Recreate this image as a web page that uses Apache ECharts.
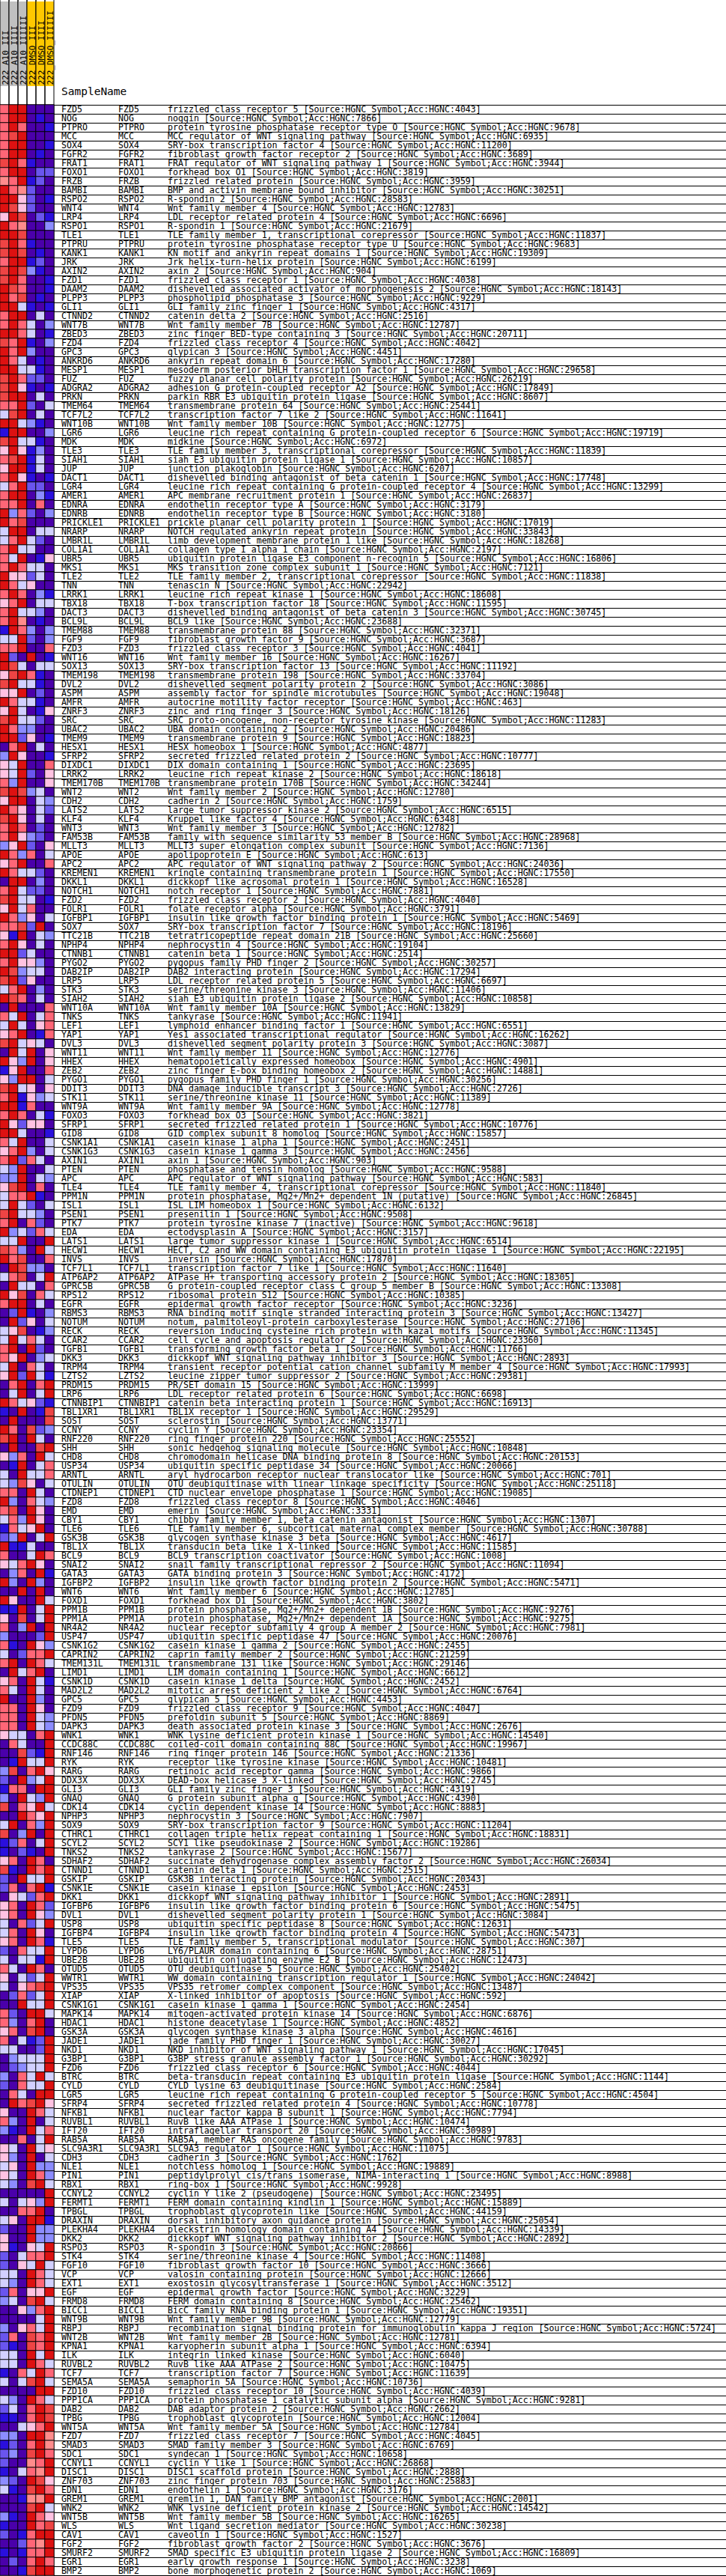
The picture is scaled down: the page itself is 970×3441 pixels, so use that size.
<!DOCTYPE html>
<html><head><meta charset="utf-8">
<script src="https://cdn.jsdelivr.net/npm/echarts@6/dist/echarts.min.js"></script>
<style>html,body{margin:0;padding:0;background:#fff}#c{width:970px;height:3441px}</style>
</head><body><div id="c"></div>
<script>
const samples = ['222_A10_III','222_A10_IIII','222_A10_IIIIII','222_DMSO_III','222_DMSO_IIII','222_DMSO_IIIIII'];
const sampleGroups = ['A10','A10','A10','DMSO','DMSO','DMSO'];
const groupColors = {A10:'#C0C0C0', DMSO:'#FFC800'};
const headerTitle = 'SampleName';

const genes = ['FZD5','NOG','PTPRO','MCC','SOX4','FGFR2','FRAT1','FOXO1','FRZB','BAMBI','RSPO2','WNT4','LRP4','RSPO1','TLE1','PTPRU','KANK1','JRK','AXIN2','FZD1',
'DAAM2','PLPP3','GLI1','CTNND2','WNT7B','ZBED3','FZD4','GPC3','ANKRD6','MESP1','FUZ','ADGRA2','PRKN','TMEM64','TCF7L2','WNT10B','LGR6','MDK','TLE3','SIAH1','JUP','DACT1','LGR4','AMER1','EDNRA','EDNRB','PRICKLE1','NRARP','LMBR1L','COL1A1',
'UBR5','MKS1','TLE2','TNN','LRRK1','TBX18','DACT3','BCL9L','TMEM88','FGF9','FZD3','WNT16','SOX13','TMEM198','DVL2','ASPM','AMFR','ZNRF3','SRC','UBAC2','TMEM9','HESX1','SFRP2','DIXDC1','LRRK2','TMEM170B','WNT2','CDH2','LATS2','KLF4',
'WNT3','FAM53B','MLLT3','APOE','APC2','KREMEN1','DKKL1','NOTCH1','FZD2','FOLR1','IGFBP1','SOX7','TTC21B','NPHP4','CTNNB1','PYGO2','DAB2IP','LRP5','STK3','SIAH2','WNT10A','TNKS','LEF1','YAP1','DVL3','WNT11','HHEX','ZEB2','PYGO1','DDIT3',
'STK11','WNT9A','FOXO3','SFRP1','GID8','CSNK1A1','CSNK1G3','AXIN1','PTEN','APC','TLE4','PPM1N','ISL1','PSEN1','PTK7','EDA','LATS1','HECW1','INVS','TCF7L1','ATP6AP2','GPRC5B','RPS12','EGFR','RBMS3','NOTUM','RECK','CCAR2','TGFB1','DKK3',
'TRPM4','LZTS2','PRDM15','LRP6','CTNNBIP1','TBL1XR1','SOST','CCNY','RNF220','SHH','CHD8','USP34','ARNTL','OTULIN','CTDNEP1','FZD8','EMD','CBY1','TLE6','GSK3B','TBL1X','BCL9','SNAI2','GATA3','IGFBP2','WNT6','FOXD1','PPM1B','PPM1A','NR4A2',
'USP47','CSNK1G2','CAPRIN2','TMEM131L','LIMD1','CSNK1D','MAD2L2','GPC5','FZD9','PFDN5','DAPK3','WNK1','CCDC88C','RNF146','RYK','RARG','DDX3X','GLI3','GNAQ','CDK14','NPHP3','SOX9','CTHRC1','SCYL2','TNKS2','SDHAF2','CTNND1','GSKIP','CSNK1E','DKK1',
'IGFBP6','DVL1','USP8','IGFBP4','TLE5','LYPD6','UBE2B','OTUD5','WWTR1','VPS35','XIAP','CSNK1G1','MAPK14','HDAC1','GSK3A','JADE1','NKD1','G3BP1','FZD6','BTRC','CYLD','LGR5','SFRP4','NFKB1','RUVBL1','IFT20','RAB5A','SLC9A3R1','CDH3','NLE1',
'PIN1','RBX1','CCNYL2','FERMT1','TPBGL','DRAXIN','PLEKHA4','DKK2','RSPO3','STK4','FGF10','VCP','EXT1','EGF','FRMD8','BICC1','WNT9B','RBPJ','WNT2B','KPNA1','ILK','RUVBL2','TCF7','SEMA5A','FZD10','PPP1CA','DAB2','TPBG','WNT5A','FZD7',
'SMAD3','SDC1','CCNYL1','DISC1','ZNF703','EDN1','GREM1','WNK2','WNT5B','WLS','CAV1','FGF2','SMURF2','EGR1','BMP2'];

const S = ' [Source:HGNC Symbol;Acc:HGNC:';
const descriptions = [
'frizzled class receptor 5'+S+'4043]','noggin'+S+'7866]','protein tyrosine phosphatase receptor type O'+S+'9678]','MCC regulator of WNT signaling pathway'+S+'6935]','SRY-box transcription factor 4'+S+'11200]',
'fibroblast growth factor receptor 2'+S+'3689]','FRAT regulator of WNT signaling pathway 1'+S+'3944]','forkhead box O1'+S+'3819]','frizzled related protein'+S+'3959]','BMP and activin membrane bound inhibitor'+S+'30251]',
'R-spondin 2'+S+'28583]','Wnt family member 4'+S+'12783]','LDL receptor related protein 4'+S+'6696]','R-spondin 1'+S+'21679]','TLE family member 1, transcriptional corepressor'+S+'11837]',
'protein tyrosine phosphatase receptor type U'+S+'9683]','KN motif and ankyrin repeat domains 1'+S+'19309]','Jrk helix-turn-helix protein'+S+'6199]','axin 2'+S+'904]','frizzled class receptor 1'+S+'4038]',
'dishevelled associated activator of morphogenesis 2'+S+'18143]','phospholipid phosphatase 3'+S+'9229]','GLI family zinc finger 1'+S+'4317]','catenin delta 2'+S+'2516]','Wnt family member 7B'+S+'12787]',
'zinc finger BED-type containing 3'+S+'20711]','frizzled class receptor 4'+S+'4042]','glypican 3'+S+'4451]','ankyrin repeat domain 6'+S+'17280]','mesoderm posterior bHLH transcription factor 1'+S+'29658]',
'fuzzy planar cell polarity protein'+S+'26219]','adhesion G protein-coupled receptor A2'+S+'17849]','parkin RBR E3 ubiquitin protein ligase'+S+'8607]','transmembrane protein 64'+S+'25441]','transcription factor 7 like 2'+S+'11641]',
'Wnt family member 10B'+S+'12775]','leucine rich repeat containing G protein-coupled receptor 6'+S+'19719]','midkine'+S+'6972]','TLE family member 3, transcriptional corepressor'+S+'11839]','siah E3 ubiquitin protein ligase 1'+S+'10857]',
'junction plakoglobin'+S+'6207]','dishevelled binding antagonist of beta catenin 1'+S+'17748]','leucine rich repeat containing G protein-coupled receptor 4'+S+'13299]','APC membrane recruitment protein 1'+S+'26837]','endothelin receptor type A'+S+'3179]',
'endothelin receptor type B'+S+'3180]','prickle planar cell polarity protein 1'+S+'17019]','NOTCH regulated ankyrin repeat protein'+S+'33843]','limb development membrane protein 1 like'+S+'18268]','collagen type I alpha 1 chain'+S+'2197]',
'ubiquitin protein ligase E3 component n-recognin 5'+S+'16806]','MKS transition zone complex subunit 1'+S+'7121]','TLE family member 2, transcriptional corepressor'+S+'11838]','tenascin N'+S+'22942]','leucine rich repeat kinase 1'+S+'18608]',
'T-box transcription factor 18'+S+'11595]','dishevelled binding antagonist of beta catenin 3'+S+'30745]','BCL9 like'+S+'23688]','transmembrane protein 88'+S+'32371]','fibroblast growth factor 9'+S+'3687]',
'frizzled class receptor 3'+S+'4041]','Wnt family member 16'+S+'16267]','SRY-box transcription factor 13'+S+'11192]','transmembrane protein 198'+S+'33704]','dishevelled segment polarity protein 2'+S+'3086]',
'assembly factor for spindle microtubules'+S+'19048]','autocrine motility factor receptor'+S+'463]','zinc and ring finger 3'+S+'18126]','SRC proto-oncogene, non-receptor tyrosine kinase'+S+'11283]','UBA domain containing 2'+S+'20486]',
'transmembrane protein 9'+S+'18823]','HESX homeobox 1'+S+'4877]','secreted frizzled related protein 2'+S+'10777]','DIX domain containing 1'+S+'23695]','leucine rich repeat kinase 2'+S+'18618]',
'transmembrane protein 170B'+S+'34244]','Wnt family member 2'+S+'12780]','cadherin 2'+S+'1759]','large tumor suppressor kinase 2'+S+'6515]','Kruppel like factor 4'+S+'6348]',
'Wnt family member 3'+S+'12782]','family with sequence similarity 53 member B'+S+'28968]','MLLT3 super elongation complex subunit'+S+'7136]','apolipoprotein E'+S+'613]','APC regulator of WNT signaling pathway 2'+S+'24036]',
'kringle containing transmembrane protein 1'+S+'17550]','dickkopf like acrosomal protein 1'+S+'16528]','notch receptor 1'+S+'7881]','frizzled class receptor 2'+S+'4040]','folate receptor alpha'+S+'3791]',
'insulin like growth factor binding protein 1'+S+'5469]','SRY-box transcription factor 7'+S+'18196]','tetratricopeptide repeat domain 21B'+S+'25660]','nephrocystin 4'+S+'19104]','catenin beta 1'+S+'2514]',
'pygopus family PHD finger 2'+S+'30257]','DAB2 interacting protein'+S+'17294]','LDL receptor related protein 5'+S+'6697]','serine/threonine kinase 3'+S+'11406]','siah E3 ubiquitin protein ligase 2'+S+'10858]',
'Wnt family member 10A'+S+'13829]','tankyrase'+S+'11941]','lymphoid enhancer binding factor 1'+S+'6551]','Yes1 associated transcriptional regulator'+S+'16262]','dishevelled segment polarity protein 3'+S+'3087]',
'Wnt family member 11'+S+'12776]','hematopoietically expressed homeobox'+S+'4901]','zinc finger E-box binding homeobox 2'+S+'14881]','pygopus family PHD finger 1'+S+'30256]','DNA damage inducible transcript 3'+S+'2726]',
'serine/threonine kinase 11'+S+'11389]','Wnt family member 9A'+S+'12778]','forkhead box O3'+S+'3821]','secreted frizzled related protein 1'+S+'10776]','GID complex subunit 8 homolog'+S+'15857]',
'casein kinase 1 alpha 1'+S+'2451]','casein kinase 1 gamma 3'+S+'2456]','axin 1'+S+'903]','phosphatase and tensin homolog'+S+'9588]','APC regulator of WNT signaling pathway'+S+'583]',
'TLE family member 4, transcriptional corepressor'+S+'11840]','protein phosphatase, Mg2+/Mn2+ dependent 1N (putative)'+S+'26845]','ISL LIM homeobox 1'+S+'6132]','presenilin 1'+S+'9508]','protein tyrosine kinase 7 (inactive)'+S+'9618]',
'ectodysplasin A'+S+'3157]','large tumor suppressor kinase 1'+S+'6514]','HECT, C2 and WW domain containing E3 ubiquitin protein ligase 1'+S+'22195]','inversin'+S+'17870]','transcription factor 7 like 1'+S+'11640]',
'ATPase H+ transporting accessory protein 2'+S+'18305]','G protein-coupled receptor class C group 5 member B'+S+'13308]','ribosomal protein S12'+S+'10385]','epidermal growth factor receptor'+S+'3236]','RNA binding motif single stranded interacting protein 3'+S+'13427]',
'notum, palmitoleoyl-protein carboxylesterase'+S+'27106]','reversion inducing cysteine rich protein with kazal motifs'+S+'11345]','cell cycle and apoptosis regulator 2'+S+'23360]','transforming growth factor beta 1'+S+'11766]','dickkopf WNT signaling pathway inhibitor 3'+S+'2893]',
'transient receptor potential cation channel subfamily M member 4'+S+'17993]','leucine zipper tumor suppressor 2'+S+'29381]','PR/SET domain 15'+S+'13999]','LDL receptor related protein 6'+S+'6698]','catenin beta interacting protein 1'+S+'16913]',
'TBL1X receptor 1'+S+'29529]','sclerostin'+S+'13771]','cyclin Y'+S+'23354]','ring finger protein 220'+S+'25552]','sonic hedgehog signaling molecule'+S+'10848]',
'chromodomain helicase DNA binding protein 8'+S+'20153]','ubiquitin specific peptidase 34'+S+'20066]','aryl hydrocarbon receptor nuclear translocator like'+S+'701]','OTU deubiquitinase with linear linkage specificity'+S+'25118]','CTD nuclear envelope phosphatase 1'+S+'19085]',
'frizzled class receptor 8'+S+'4046]','emerin'+S+'3331]','chibby family member 1, beta catenin antagonist'+S+'1307]','TLE family member 6, subcortical maternal complex member'+S+'30788]','glycogen synthase kinase 3 beta'+S+'4617]',
'transducin beta like 1 X-linked'+S+'11585]','BCL9 transcription coactivator'+S+'1008]','snail family transcriptional repressor 2'+S+'11094]','GATA binding protein 3'+S+'4172]','insulin like growth factor binding protein 2'+S+'5471]',
'Wnt family member 6'+S+'12785]','forkhead box D1'+S+'3802]','protein phosphatase, Mg2+/Mn2+ dependent 1B'+S+'9276]','protein phosphatase, Mg2+/Mn2+ dependent 1A'+S+'9275]','nuclear receptor subfamily 4 group A member 2'+S+'7981]',
'ubiquitin specific peptidase 47'+S+'20076]','casein kinase 1 gamma 2'+S+'2455]','caprin family member 2'+S+'21259]','transmembrane 131 like'+S+'29146]','LIM domain containing 1'+S+'6612]',
'casein kinase 1 delta'+S+'2452]','mitotic arrest deficient 2 like 2'+S+'6764]','glypican 5'+S+'4453]','frizzled class receptor 9'+S+'4047]','prefoldin subunit 5'+S+'8869]',
'death associated protein kinase 3'+S+'2676]','WNK lysine deficient protein kinase 1'+S+'14540]','coiled-coil domain containing 88C'+S+'19967]','ring finger protein 146'+S+'21336]','receptor like tyrosine kinase'+S+'10481]',
'retinoic acid receptor gamma'+S+'9866]','DEAD-box helicase 3 X-linked'+S+'2745]','GLI family zinc finger 3'+S+'4319]','G protein subunit alpha q'+S+'4390]','cyclin dependent kinase 14'+S+'8883]',
'nephrocystin 3'+S+'7907]','SRY-box transcription factor 9'+S+'11204]','collagen triple helix repeat containing 1'+S+'18831]','SCY1 like pseudokinase 2'+S+'19286]','tankyrase 2'+S+'15677]',
'succinate dehydrogenase complex assembly factor 2'+S+'26034]','catenin delta 1'+S+'2515]','GSK3B interacting protein'+S+'20343]','casein kinase 1 epsilon'+S+'2453]','dickkopf WNT signaling pathway inhibitor 1'+S+'2891]',
'insulin like growth factor binding protein 6'+S+'5475]','dishevelled segment polarity protein 1'+S+'3084]','ubiquitin specific peptidase 8'+S+'12631]','insulin like growth factor binding protein 4'+S+'5473]','TLE family member 5, transcriptional modulator'+S+'307]',
'LY6/PLAUR domain containing 6'+S+'28751]','ubiquitin conjugating enzyme E2 B'+S+'12473]','OTU deubiquitinase 5'+S+'25402]','WW domain containing transcription regulator 1'+S+'24042]','VPS35 retromer complex component'+S+'13487]',
'X-linked inhibitor of apoptosis'+S+'592]','casein kinase 1 gamma 1'+S+'2454]','mitogen-activated protein kinase 14'+S+'6876]','histone deacetylase 1'+S+'4852]','glycogen synthase kinase 3 alpha'+S+'4616]',
'jade family PHD finger 1'+S+'30027]','NKD inhibitor of WNT signaling pathway 1'+S+'17045]','G3BP stress granule assembly factor 1'+S+'30292]','frizzled class receptor 6'+S+'4044]','beta-transducin repeat containing E3 ubiquitin protein ligase'+S+'1144]',
'CYLD lysine 63 deubiquitinase'+S+'2584]','leucine rich repeat containing G protein-coupled receptor 5'+S+'4504]','secreted frizzled related protein 4'+S+'10778]','nuclear factor kappa B subunit 1'+S+'7794]','RuvB like AAA ATPase 1'+S+'10474]',
'intraflagellar transport 20'+S+'30989]','RAB5A, member RAS oncogene family'+S+'9783]','SLC9A3 regulator 1'+S+'11075]','cadherin 3'+S+'1762]','notchless homolog 1'+S+'19889]',
'peptidylprolyl cis/trans isomerase, NIMA-interacting 1'+S+'8988]','ring-box 1'+S+'9928]','cyclin Y like 2 (pseudogene)'+S+'23495]','FERM domain containing kindlin 1'+S+'15889]','trophoblast glycoprotein like'+S+'44159]',
'dorsal inhibitory axon guidance protein'+S+'25054]','pleckstrin homology domain containing A4'+S+'14339]','dickkopf WNT signaling pathway inhibitor 2'+S+'2892]','R-spondin 3'+S+'20866]','serine/threonine kinase 4'+S+'11408]',
'fibroblast growth factor 10'+S+'3666]','valosin containing protein'+S+'12666]','exostosin glycosyltransferase 1'+S+'3512]','epidermal growth factor'+S+'3229]','FERM domain containing 8'+S+'25462]',
'BicC family RNA binding protein 1'+S+'19351]','Wnt family member 9B'+S+'12779]','recombination signal binding protein for immunoglobulin kappa J region'+S+'5724]','Wnt family member 2B'+S+'12781]','karyopherin subunit alpha 1'+S+'6394]',
'integrin linked kinase'+S+'6040]','RuvB like AAA ATPase 2'+S+'10475]','transcription factor 7'+S+'11639]','semaphorin 5A'+S+'10736]','frizzled class receptor 10'+S+'4039]',
'protein phosphatase 1 catalytic subunit alpha'+S+'9281]','DAB adaptor protein 2'+S+'2662]','trophoblast glycoprotein'+S+'12004]','Wnt family member 5A'+S+'12784]','frizzled class receptor 7'+S+'4045]',
'SMAD family member 3'+S+'6769]','syndecan 1'+S+'10658]','cyclin Y like 1'+S+'26868]','DISC1 scaffold protein'+S+'2888]','zinc finger protein 703'+S+'25883]',
'endothelin 1'+S+'3176]','gremlin 1, DAN family BMP antagonist'+S+'2001]','WNK lysine deficient protein kinase 2'+S+'14542]','Wnt family member 5B'+S+'16265]','Wnt ligand secretion mediator'+S+'30238]',
'caveolin 1'+S+'1527]','fibroblast growth factor 2'+S+'3676]','SMAD specific E3 ubiquitin protein ligase 2'+S+'16809]','early growth response 1'+S+'3238]','bone morphogenetic protein 2'+S+'1069]'];

// row-scaled expression values (columns follow `samples`)
const values = [
[1,2,2,-2,-2,-2],[1,2,2,-2,-1.5,-2],[1,2,1,-2,-2,-1.5],[1,1.5,2,-2,-2,-2],[1,2,2,-2,-2,-1.5],
[1,2,2,-2,-1.5,-2],[1.5,2,1,-1.5,-2,-2],[1,2,2,-2,-1,-1],[0.7,1,2,-1.5,-1,-2],[2,1,0.7,-1,-2,-2],
[2,2,0.3,-1,-2,-1.5],[2,1.5,0.3,-1,-2,-2],[0.3,2,1.5,-2,-1,-1.5],[2,1,0.7,-2,-2,-0.7],[2,2,1.5,-2,-2,-2],
[1.5,2,1,-1.5,-2,-2],[1.5,2,1.5,-2,-1.5,-2],[1,2,2,-1.5,-1,-2],[1.5,2,1.5,-0.7,-1.5,-2],[1.5,2,1,-2,-2,-1.5],
[2,1.5,1,-2,-2,-1.5],[2,1,1.5,-2,-1.5,-2],[2,2,-0.3,-1.5,-2,-1.5],[1,2,2,-2,-0.3,-2],[1,2,1,-0.3,-2,-0.7],
[2,2,1,-0.3,-2,-1.5],[1.5,1,2,-1.5,-2,-0.7],[2,1,2,-0.7,-2,-2],[2,1,-0.3,-2,-1.5,-2],[2,2,-0.3,-0.3,-1.5,-2],
[1.5,2,1,-1,-1,-2],[1.5,2,0.3,-1.5,-2,-1.5],[1.5,2,2,-2,-0.3,-2],[1,1,2,-1,-2,-0.3],[-0.3,1.5,2,-2,-0.3,-2],
[2,2,-0.3,-0.7,-1.5,-2],[-1.5,2,2,-2,-2,-0.7],[1.5,2,-0.3,-0.3,-1.5,-2],[0.3,2,0.3,-1.5,-0.7,-2],[1,1.5,2,-1.5,-0.3,-2],
[0.3,2,2,-1.5,-0.3,-2],[1,2,0.3,-1.5,-2,-1.5],[-0.3,1,2,-1,-1,-2],[1,2,2,-2,-0.7,-1.5],[1,1,2,-2,1,-2],
[2,-0.7,1,-1,-2,-0.7],[2,1,1.5,-2,-2,-2],[-0.3,2,2,-2,-0.3,-0.3],[-0.3,1,2,-0.3,-1,-2],[1,2,-0.3,-0.3,-2,-2],
[1,-0.3,2,-2,-1.5,0.3],[1,2,1,-0.3,-0.3,-2],[2,0.3,0.3,-1,-0.3,-2],[2,1,-0.3,0.3,-2,-2],[1,2,1,-2,-0.7,-1.5],
[0.3,1,2,-2,-0.3,-0.3],[1,2,-0.3,-0.3,-0.7,-2],[1,2,0.7,-2,-1.5,-2],[-1.5,2,1,-0.7,-2,-0.7],[-0.3,-0.3,2,-1,-2,-0.7],
[1,1,2,-2,-2,1],[2,-1,-2,2,-2,-1.5],[2,1.5,-0.3,-2,-0.3,-0.3],[0.3,1.5,2,1,-1.5,-2],[1.5,2,-0.3,-0.3,-1.5,-2],
[0.3,0.3,2,-2,-1,-2],[2,1,-0.3,-0.3,-1.5,-2],[0.3,2,-0.3,-2,-1.5,0.3],[1.5,2,-0.3,-0.3,-1,-2],[2,1,-0.7,-0.7,-2,-2],
[2,2,-1,0.3,-2,-1.5],[-2,1,2,-2,-0.3,-2],[-0.7,2,0.3,-2,-2,-1.5],[0.3,-0.3,2,-2,-2,1],[0.3,-0.3,2,-1,-2,0.3],
[1,-0.7,2,-2,-2,0.3],[1.5,2,1.5,-0.7,-0.3,-2],[0.3,2,2,-2,-0.3,-0.7],[2,1,0.3,-2,-0.3,-1],[1.5,2,0.3,-2,-0.3,-2],
[1,2,1,-2,-1,-2],[1,2,0.3,-0.7,-1,-2],[-0.7,0.3,2,-1,-2,0.3],[2,1,-0.7,1,-2,-0.3],[0.3,1,2,-2,-2,1],
[2,1,-0.3,-0.3,-1,-2],[-2,2,2,-2,-0.7,-2],[1,2,-0.3,-1,-1,-2],[1.5,2,-0.3,-0.3,-2,-1.5],[0.3,2,-0.3,1,-2,-2],
[2,1,-0.7,0.3,-2,-0.3],[1,1,1.5,-1,2,-2],[0.3,-1.5,2,-2,-0.3,-0.7],[1,2,0.3,-2,-0.3,-2],[2,2,-1,-0.3,-2,-2],
[1,2,0.3,0.3,-0.7,-2],[2,1.5,-0.7,-0.3,-0.3,-2],[1.5,2,-1,0.3,-2,-2],[-0.3,1,2,-2,-0.7,-2],[2,1.5,1,-2,-0.3,-2],
[-2,2,-2,-2,-2,1],[1,-0.3,2,-2,-0.3,1],[-0.3,2,-0.3,-2,0.3,1],[0.3,1,2,-2,-1.5,1],[1.5,2,-0.3,0.3,-0.3,-2],
[-2,2,-0.3,2,-2,0.3],[2,0.3,-0.7,2,-2,0.3],[-1.5,0.3,2,-2,-2,1],[0.3,-0.7,2,2,-2,-0.3],[1.5,2,-0.3,0.3,-2,0.3],
[1,2,-1.5,0.3,-0.7,-0.3],[2,2,-1.5,1,-2,-2],[1,2,1,-2,-0.3,-1.5],[2,0.3,-1,0.3,0.3,-2],[2,2,-0.3,-2,-2,-1.5],
[1,-0.3,2,-2,-2,-0.3],[0.3,1,2,-0.7,-2,-0.3],[1,2,-1,1,-0.3,-2],[-0.3,-0.7,2,-2,-2,-0.3],[-0.7,-0.7,2,-2,-0.3,-0.7],
[0.3,1.5,2,-2,1,-2],[-0.3,1,1,2,-1.5,-2],[-0.3,2,-0.3,-1,-2,-0.3],[1.5,2,-0.3,-0.3,-0.7,-2],[1,2,-2,1,-1,-2],
[2,-0.7,-0.3,-1,1,-0.3],[-0.3,-0.3,2,-2,-2,2],[1.5,1,-0.7,-2,2,-0.3],[2,1,1.5,-2,-2,1],[-2,2,1.5,-0.7,-0.7,-2],
[-0.3,1,1.5,-2,-0.3,2],[-2,2,-0.3,-0.3,-2,1],[2,0.3,1.5,-2,1,-0.3],[1,2,2,-2,-0.3,-2],[-2,-1,2,-1.5,-2,-0.7],
[-2,2,-1,0.3,-2,-0.3],[-0.3,0.3,1.5,-2,-1.5,-0.7],[-0.3,2,-0.3,1,-0.3,-2],[1,2,-2,2,-1,-2],[1,0.3,2,-2,-0.7,-0.3],
[-0.3,2,-2,1,-0.3,-2],[0.3,2,-1,2,-0.3,-1.5],[-2,1,2,-2,1,2],[-2,-0.3,2,-2,-0.3,2],[2,1,-0.3,0.3,-1,-1.5],
[-1.5,-2,2,-2,-1.5,1.5],[-2,2,-2,-2,-2,1.5],[2,1,-2,1.5,-1,-0.7],[1.5,2,-2,2,-0.3,-2],[-2,2,-2,-2,1.5,2],
[0.3,-0.7,1,-2,2,-0.3],[-2,-1.5,2,-2,-0.3,1],[-0.3,-2,2,-0.3,-0.3,1],[-0.3,-0.7,1.5,0.3,-2,-0.3],[1,1,-2,2,-0.3,-2],
[2,-0.7,-2,1,-0.3,-0.7],[1,1.5,-2,2,0.3,-2],[-0.3,1,-0.7,2,0.3,-2],[-1.5,1,-0.3,0.3,2,-2],[-1,-0.7,2,-2,-0.3,2],
[2,-1.5,-1.5,-0.3,-2,-2],[1,-2,-2,-0.3,2,1],[0.3,-0.3,1,2,0.3,-2],[-2,-0.7,1,-2,2,-1.5],[2,-0.7,-2,2,-0.7,-2],
[-2,-2,2,-2,2,-2],[2,0.3,-2,-2,2,-0.3],[-1.5,-1.5,2,-2,-0.3,2],[0.3,-2,1.5,-2,-0.3,2],[1,-2,-0.7,2,-2,2],
[-0.7,-2,-2,-2,-1,2],[1,-1.5,-2,2,0.3,-0.7],[-0.3,-2,-1,1,1,2],[1,2,-2,2,1,-0.3],[-2,2,-0.3,1,2,-2],
[0.3,1,-2,2,-0.3,-1.5],[1,-0.3,-2,2,-0.3,-2],[2,-2,-2,2,-0.7,-2],[1,1,-2,2,0.3,-2],[1,1,-2,2,-0.3,-0.7],
[1,1,-2,2,-0.3,-0.7],[0.3,-0.3,-0.3,-2,1,2],[-2,1,-0.3,-2,-2,2],[-2,-2,1.5,-1,-1.5,2],[-2,-1.5,2,-0.3,-0.3,2],
[-0.7,1.5,-2,1,2,0.3],[-1,-2,2,-0.7,-0.3,2],[-1.5,1,1,-2,2,2],[-0.7,-2,2,-0.3,-0.7,2],[1.5,-2,1,0.3,2,-0.3],
[-2,-2,2,1,0.3,2],[-0.3,2,-2,1,-0.7,2],[1.5,-2,-0.7,2,-2,2],[-1.5,-1,1,-2,-0.3,2],[-1.5,-2,-1,-1.5,-2,2],
[0.3,1,-2,2,1,-2],[1.5,-1.5,-2,2,1,2],[-1,-2,2,-0.3,-0.3,2],[-1,1,-2,1,2,-1.5],[-2,0.3,-0.3,-1,1,2],
[0.3,1,-2,2,1,-1],[0.3,1,-2,2,0.3,-0.7],[-0.3,-2,1,-1,-0.3,2],[-0.3,1,-2,2,0.3,-2],[0.3,1,-2,2,1,-1.5],
[-1,-2,1,-0.3,-0.3,2],[-0.3,-2,-0.3,-0.3,-1.5,2],[1,-0.3,-2,2,1,-2],[0.3,-2,-0.3,-1,-0.3,2],[-0.3,-2,0.3,1,1.5,2],
[-2,-1,1,-1,-0.3,2],[-2,-2,2,-0.3,-0.3,2],[1,-1,-2,2,2,-0.3],[1,-0.7,-2,1,2,-2],[0.3,1,-2,1.5,2,-2],
[1,-2,-0.3,-1.5,-1,2],[-0.3,-0.3,-2,-2,-1,2],[-2,-0.7,-0.3,-0.3,-0.3,2],[-2,-1,-0.7,-0.3,-0.3,2],[-0.7,-2,1,-0.3,2,-0.3],
[-1,-2,1,-0.3,-0.3,2],[-2,1,-0.3,-2,2,2],[-2,2,1,1.5,2,0.3],[0.3,-2,-2,2,1,-0.3],[1,-0.7,-2,2,-2,-0.3],
[-0.7,-1.5,-2,2,-0.3,1],[-2,-2,1,-2,-0.3,2],[0.3,-0.3,-2,2,-0.3,0.3],[0.3,-0.7,-2,2,-2,-0.3],[-0.3,0.3,-2,2,-0.7,-0.7],
[0.3,-0.3,-2,2,1,-0.7],[-0.3,-0.7,-2,1.5,2,-0.3],[-2,-2,-2,-2,-2,2],[-0.3,-2,-0.3,0.3,-0.7,2],[-2,-2,1,1,2,-2],
[-0.3,0.3,-2,2,2,-1.5],[-1,-2,-2,2,-0.7,-0.7],[0.3,-2,-2,2,-0.7,-0.7],[0.3,-1.5,-2,0.3,-0.3,2],[-1,-2,-0.3,1,1,2],
[-1,-2,0.3,-0.3,2,-0.3],[-0.3,-0.3,-2,2,1,-0.3],[-0.3,-0.7,-2,2,1,-0.3],[-1,1,-2,0.3,0.3,2],[-0.7,-0.3,-2,1.5,2,-0.3],
[-2,-2,0.3,-0.7,1,2],[-2,-2,-2,-2,-0.3,2],[-0.7,-2,0.3,1,-0.3,2],[-1,1,-2,1.5,1,2],[-1,-1.5,-2,1.5,1,2],
[-0.3,-0.3,-2,2,-0.3,2],[-0.3,-0.3,-2,2,1,-0.3],[-1.5,-2,1,-0.3,2,1],[-0.3,-2,-0.3,1.5,2,-0.3],[-2,-2,-2,-2,2,2],
[-0.3,-0.7,-2,2,1,-0.3],[-1,-0.3,-2,1,2,1.5],[-1.5,-1.5,-2,1,2,1.5],[-2,-2,-0.3,0.3,1,2],[-0.7,-0.7,-2,2,2,0.7],
[-1.5,-1,-2,1,2,0.7],[-1,-0.7,-2,1.5,2,1],[-1,-2,-2,0.7,1,2],[-1.5,-2,-0.3,1,0.7,2],[-0.7,-1,-2,2,1.5,0.3],
[-0.3,-1.5,-2,1.5,2,1],[-2,-2,-1.5,0.7,0.7,2],[-2,-2,-2,1.5,2,-0.3],[-0.7,-1.5,-2,2,1,0.3],[-1.5,-2,-2,2,1,1.5],
[-1,-2,-1.5,1,2,2],[-2,-2,-1,1,0.7,2],[-1.5,-2,-1.5,1,1,2],[-2,-1,-2,1,2,1],[-2,-2,-1.5,1.5,2,2]];

const FONT = 'DejaVu Sans Mono';
const ROW_H = 12;
const nRows = genes.length;
const heatData = [];
values.forEach((row, i) => row.forEach((v, j) => heatData.push([j, i, v])));

const chart = echarts.init(document.getElementById('c'), null, {renderer: 'svg'});
chart.setOption({
  animation: false,
  backgroundColor: '#fff',
  title: {text: headerTitle, left: 82, top: 114, padding: 0,
    textStyle: {fontFamily: FONT, fontSize: 14.5, fontWeight: 'normal', color: '#000'}},
  grid: [
    {left: 0, top: 140, width: 72, height: nRows * ROW_H},
    {left: 72, top: 140, width: 898, height: nRows * ROW_H},
    {left: 0, top: 0, width: 72, height: 140}
  ],
  xAxis: [
    {type: 'category', gridIndex: 0, data: samples, show: false},
    {type: 'value', gridIndex: 1, min: 0, max: 1, show: false},
    {type: 'category', gridIndex: 2, data: samples, show: false}
  ],
  yAxis: [
    {type: 'category', gridIndex: 0, data: genes, inverse: true, show: false},
    {type: 'category', gridIndex: 1, data: genes, inverse: true,
      axisLine: {show: false}, axisTick: {show: false}, axisLabel: {show: false, interval: 0},
      splitLine: {show: true, interval: 0, lineStyle: {color: '#000', width: 1}}},
    {type: 'value', gridIndex: 2, min: 0, max: 140, inverse: true, show: false}
  ],
  visualMap: {
    type: 'piecewise', show: false, seriesIndex: 0, dimension: 2,
    pieces: [
      {gt: 1.75, color: '#DD1111'},
      {gt: 1.25, lte: 1.75, color: '#EE4444'},
      {gt: 0.85, lte: 1.25, color: '#FF6677'},
      {gt: 0.5, lte: 0.85, color: '#FF8C8C'},
      {gt: 0, lte: 0.5, color: '#FFC2E2'},
      {gt: -0.5, lte: 0, color: '#D2D0FF'},
      {gt: -0.85, lte: -0.5, color: '#8C8CFF'},
      {gt: -1.25, lte: -0.85, color: '#6A55EE'},
      {gt: -1.75, lte: -1.25, color: '#2A0FDD'},
      {lte: -1.75, color: '#4A00AA'}
    ]
  },
  series: [
    {type: 'heatmap', xAxisIndex: 0, yAxisIndex: 0, data: heatData,
      itemStyle: {borderColor: '#000', borderWidth: 1}, emphasis: {disabled: true}},
    {type: 'custom', xAxisIndex: 1, yAxisIndex: 1, silent: true,
      data: genes.map((g, i) => [0, i]),
      renderItem: function (params, api) {
        const i = api.value(1);
        const p = api.coord([0, i]);
        const st = (t, dx) => ({type: 'text', x: p[0] + dx, y: p[1],
          style: {text: t, fill: '#000', font: '11.6px "' + FONT + '"', align: 'left', verticalAlign: 'middle'}});
        return {type: 'group', children: [st(genes[i], 10), st(genes[i], 86), st(descriptions[i], 152)]};
      }},
    {type: 'custom', xAxisIndex: 2, yAxisIndex: 2, silent: true,
      data: samples.map((s, i) => [i, 0]),
      renderItem: function (params, api) {
        const i = api.value(0);
        const c = api.coord([i, 0]);
        const w = api.size([1, 0])[0];
        const x0 = c[0] - w / 2;
        const yTop = api.coord([i, 0])[1];
        const yBot = api.coord([i, 140])[1];
        const yBoxTop = api.coord([i, 2])[1];
        const yBoxBot = api.coord([i, 115])[1];
        return {type: 'group', children: [
          {type: 'rect', shape: {x: x0, y: yBoxTop, width: w, height: yBoxBot - yBoxTop},
            style: {fill: groupColors[sampleGroups[i]]}},
          {type: 'line', shape: {x1: x0, y1: yTop, x2: x0, y2: yBot}, style: {stroke: '#000', lineWidth: 1}},
          {type: 'line', shape: {x1: x0 + w, y1: yTop, x2: x0 + w, y2: yBot}, style: {stroke: '#000', lineWidth: 1}},
          {type: 'text', x: c[0] + 1, y: yBoxBot - 1.5, rotation: Math.PI / 2,
            style: {text: samples[i], fill: '#000', font: '11px "' + FONT + '"', align: 'left', verticalAlign: 'middle'}}
        ]};
      }}
  ]
});
</script></body></html>
